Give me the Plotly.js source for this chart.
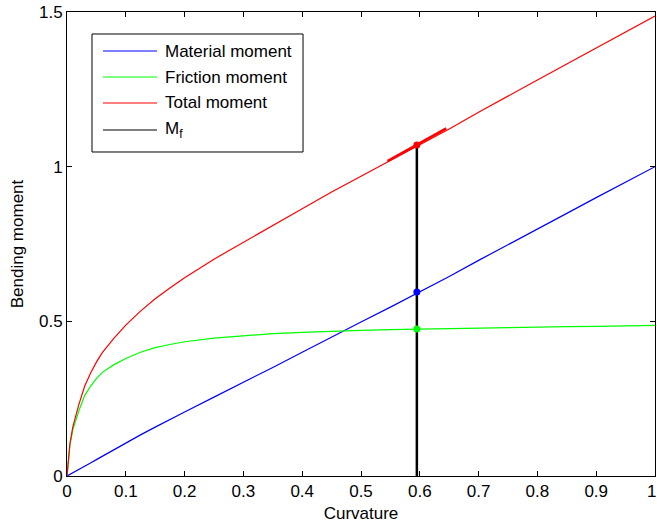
<!DOCTYPE html>
<html>
<head>
<meta charset="utf-8">
<script src="https://cdn.plot.ly/plotly-3.0.1.min.js"></script>
<style>html,body{margin:0;padding:0;background:#fff;}#chart{width:657px;height:525px;}</style>
</head>
<body>
<div id="chart"></div>
<script>
var curvature = [0, 0.005, 0.01, 0.02, 0.03, 0.04, 0.05, 0.06, 0.08, 0.1, 0.125, 0.15, 0.175, 0.2, 0.25, 0.3, 0.35, 0.4, 0.45, 0.5, 0.55, 0.6, 0.65, 0.7, 0.75, 0.8, 0.85, 0.9, 0.95, 1.0];
var materialMoment = [0, 0.005, 0.01, 0.02, 0.03, 0.042, 0.053, 0.064, 0.086, 0.108, 0.133, 0.158, 0.183, 0.207, 0.255, 0.302, 0.351, 0.400, 0.450, 0.498, 0.546, 0.595, 0.645, 0.697, 0.747, 0.798, 0.849, 0.900, 0.950, 1.000];
var frictionMoment = [0, 0.10, 0.15, 0.21, 0.26, 0.29, 0.315, 0.335, 0.36, 0.38, 0.40, 0.415, 0.425, 0.434, 0.446, 0.454, 0.46, 0.464, 0.468, 0.471, 0.473, 0.475, 0.477, 0.479, 0.480, 0.482, 0.483, 0.484, 0.486, 0.487];
var totalMoment = [0, 0.105, 0.16, 0.23, 0.29, 0.332, 0.368, 0.399, 0.446, 0.488, 0.533, 0.573, 0.608, 0.641, 0.701, 0.756, 0.811, 0.864, 0.918, 0.969, 1.019, 1.070, 1.122, 1.176, 1.227, 1.280, 1.332, 1.384, 1.436, 1.487];

var mfX = [0.595, 0.595];
var mfY = [0, 1.07];
var pointX = [0.595, 0.595, 0.595];
var pointY = [1.07, 0.595, 0.475];
var pointColors = ['#ff0000', '#0000ff', '#00ff00'];
var tangentX = [0.545, 0.645];
var tangentY = [1.018, 1.124];

var legendNames = ['Material moment', 'Friction moment', 'Total moment', 'M<sub>f</sub>'];
var legendColors = ['#0000ff', '#00ff00', '#ff0000', '#000000'];

var xTicks = [0, 0.1, 0.2, 0.3, 0.4, 0.5, 0.6, 0.7, 0.8, 0.9];
var xTickText = ['0', '0.1', '0.2', '0.3', '0.4', '0.5', '0.6', '0.7', '0.8', '0.9'];
var xLastTick = 1;
var xLastTickText = '1';
var yTicks = [0, 0.5, 1, 1.5];
var yTickText = ['0', '0.5', '1', '1.5'];

var font = 'Liberation Sans, Arial, Helvetica, sans-serif';
var fs = 17;

var traces = [
  {x: curvature, y: materialMoment, mode: 'lines', line: {color: '#0000ff', width: 1.2}, showlegend: false, name: 'Material moment'},
  {x: curvature, y: frictionMoment, mode: 'lines', line: {color: '#00ff00', width: 1.2}, showlegend: false, name: 'Friction moment'},
  {x: curvature, y: totalMoment, mode: 'lines', line: {color: '#ff0000', width: 1.2}, showlegend: false, name: 'Total moment'},
  {x: mfX, y: mfY, mode: 'lines', line: {color: '#000000', width: 2.5}, showlegend: false, name: 'Mf'},
  {x: tangentX, y: tangentY, mode: 'lines', line: {color: '#ff0000', width: 2.5}, showlegend: false},
  {x: pointX, y: pointY, mode: 'markers', marker: {color: pointColors, size: 7}, showlegend: false}
];

// custom legend (MATLAB style)
var lgLeft = 0.0425, lgRight = 0.4014, lgTop = 0.9526, lgBottom = 0.6983;
var rowY = [0.9159, 0.8599, 0.8039, 0.7457];
var shapes = [{type: 'rect', xref: 'paper', yref: 'paper', x0: lgLeft, x1: lgRight, y0: lgBottom, y1: lgTop,
  line: {color: '#000', width: 1}, fillcolor: '#fff', layer: 'above'}];
var annotations = [];
for (var i = 0; i < legendNames.length; i++) {
  shapes.push({type: 'line', xref: 'paper', yref: 'paper', x0: 0.0612, x1: 0.1531, y0: rowY[i], y1: rowY[i],
    line: {color: legendColors[i], width: 1.2}, layer: 'above'});
  annotations.push({xref: 'paper', yref: 'paper', x: 0.1633, y: rowY[i], xanchor: 'left', yanchor: 'middle',
    text: legendNames[i], showarrow: false, font: {family: font, size: fs, color: '#000'}});
}
// last x tick label, kept inside the page edge
annotations.push({xref: 'x', yref: 'paper', x: xLastTick, y: 0, xanchor: 'right', yanchor: 'top',
  xshift: 2, yshift: -5, text: xLastTickText, showarrow: false, borderpad: 0,
  font: {family: font, size: fs, color: '#000'}});

var layout = {
  width: 657, height: 525,
  margin: {l: 67, r: 2, t: 12, b: 49, pad: 0},
  paper_bgcolor: '#fff', plot_bgcolor: '#fff',
  font: {family: font, size: fs, color: '#000'},
  showlegend: false,
  xaxis: {
    range: [0, 1], tickvals: xTicks, ticktext: xTickText,
    ticks: 'inside', ticklen: 5, tickwidth: 1, tickcolor: '#000',
    showline: true, linecolor: '#000', linewidth: 1, mirror: 'allticks',
    showgrid: false, zeroline: false,
    tickfont: {family: font, size: fs, color: '#000'},
    title: {text: 'Curvature', font: {family: font, size: fs, color: '#000'}, standoff: 6}
  },
  yaxis: {
    range: [0, 1.5], tickvals: yTicks, ticktext: yTickText,
    ticks: 'inside', ticklen: 5, tickwidth: 1, tickcolor: '#000',
    showline: true, linecolor: '#000', linewidth: 1, mirror: 'allticks',
    showgrid: false, zeroline: false, ticklabeloverflow: 'allow',
    tickfont: {family: font, size: fs, color: '#000'},
    title: {text: 'Bending moment', font: {family: font, size: fs, color: '#000'}, standoff: 11}
  },
  shapes: shapes,
  annotations: annotations
};

Plotly.newPlot('chart', traces, layout, {displayModeBar: false, staticPlot: true});
</script>
</body>
</html>
